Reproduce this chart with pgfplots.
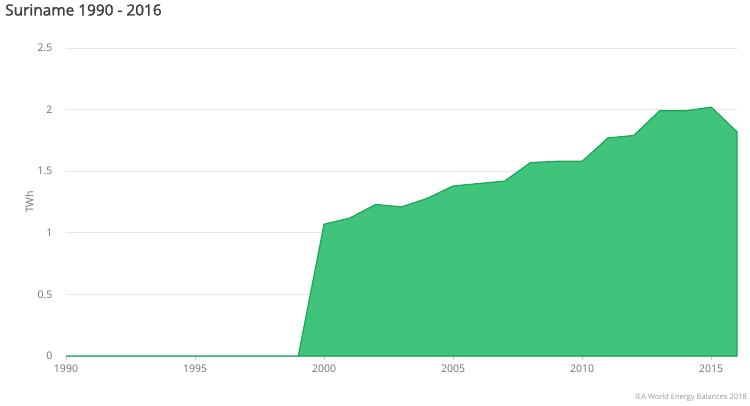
\documentclass[border=0pt]{standalone}
\usepackage{pgfplots}
\pgfplotsset{compat=1.18}
\usepackage{fontspec}
\setmainfont{Open Sans}
\newfontfamily\titlefont[FakeBold=1.6]{Open Sans}
\definecolor{areafill}{RGB}{64,196,124}
\definecolor{arealine}{RGB}{27,165,88}
\definecolor{tickgray}{RGB}{110,110,110}
\definecolor{srcgray}{RGB}{150,150,150}
\definecolor{gridgray}{RGB}{232,232,232}
\definecolor{titlegray}{RGB}{60,60,60}
\begin{document}
\begin{tikzpicture}
\useasboundingbox (0pt,0pt) rectangle (750pt,405pt);
\node[anchor=north west, inner sep=0pt, font=\titlefont\fontsize{15.4}{18}\selectfont, text=titlegray] at (5pt,401pt) {Suriname 1990 - 2016};
\node[anchor=south east, inner sep=0pt, font=\fontsize{7.5}{9}\selectfont, text=srcgray] at (747pt,4pt) {IEA World Energy Balances 2018};
\begin{axis}[
  at={(66pt,49pt)}, anchor=south west,
  scale only axis, width=671pt, height=308pt,
  xmin=1990, xmax=2016, ymin=0, ymax=2.5,
  xtick={1990,1995,2000,2005,2010,2015},
  ytick={0,0.5,1,1.5,2,2.5},
  xticklabels={1990,1995,2000,2005,2010,2015},
  yticklabels={0,0.5,1,1.5,2,2.5},
  /pgf/number format/assume math mode=true,
  ticklabel style={font=\fontsize{10.5}{12}\selectfont, text=tickgray},
  ylabel={TWh}, ylabel style={font=\fontsize{10.5}{12}\selectfont, text=tickgray, at={(axis description cs:0,0.5)}, anchor=south, yshift=29pt},
  ymajorgrids, grid style={gridgray, line width=0.8pt},
  axis x line*=bottom, axis y line*=left,
  x axis line style={draw=gridgray!70!gray, line width=0.8pt, -},
  y axis line style={draw=none},
  xtick style={draw=gridgray!70!gray, line width=0.6pt},
  ytick style={draw=none},
  major tick length=4pt, tick align=outside,
  xticklabel style={yshift=-1pt},
  yticklabel style={xshift=-6pt},
  clip=false,
]
\addplot[fill=areafill, draw=arealine, line width=1.2pt] coordinates {
(1990,0) (1991,0) (1992,0) (1993,0) (1994,0) (1995,0) (1996,0) (1997,0) (1998,0) (1999,0)
(2000,1.07) (2001,1.12) (2002,1.23) (2003,1.21) (2004,1.28) (2005,1.38) (2006,1.40) (2007,1.42)
(2008,1.57) (2009,1.58) (2010,1.58) (2011,1.77) (2012,1.79) (2013,1.99) (2014,1.99) (2015,2.02) (2016,1.82)
} \closedcycle;
\end{axis}
\end{tikzpicture}
\end{document}
